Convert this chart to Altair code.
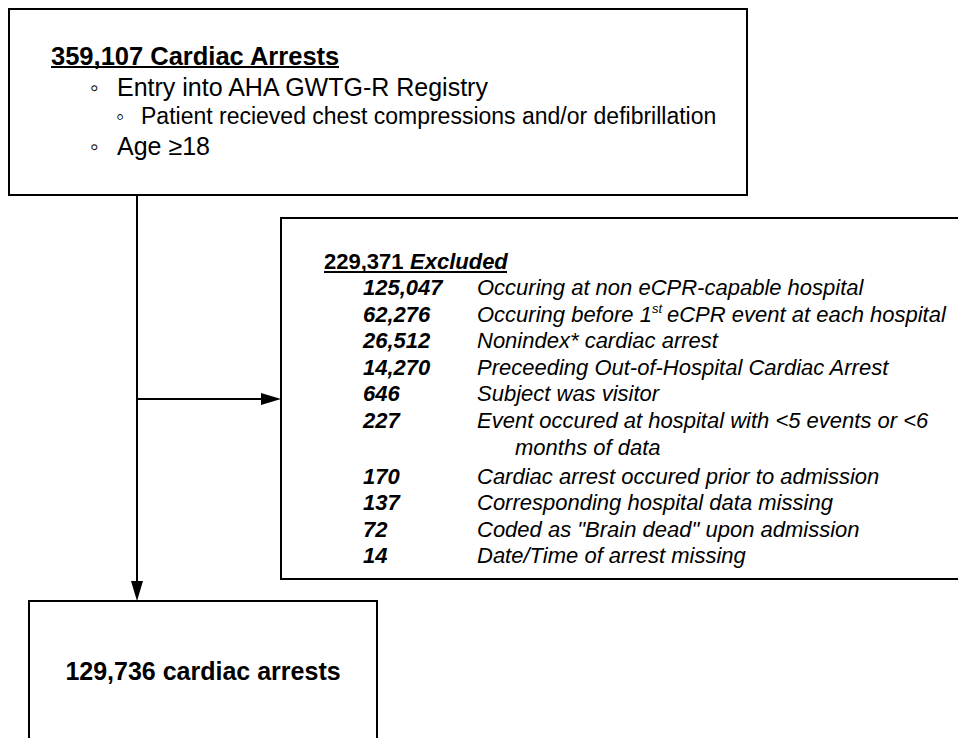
import altair as alt
import pandas as pd

# ---------------- data (text content) ----------------
top_title = "359,107 Cardiac Arrests"
top_bullets = [
    "Entry into AHA GWTG-R Registry",
    "Patient recieved chest compressions and/or defibrillation",
    "Age ≥18",
]
bullet_levels = [1, 2, 1]
excluded_count = "229,371"
excluded_word = "Excluded"
counts = ["125,047", "62,276", "26,512", "14,270", "646", "227", "170", "137", "72", "14"]
reasons = [
    "Occuring at non eCPR-capable hospital",
    "Occuring before 1",
    "Nonindex* cardiac arrest",
    "Preceeding Out-of-Hospital Cardiac Arrest",
    "Subject was visitor",
    "Event occured at hospital with <5 events or <6",
    "Cardiac arrest occured prior to admission",
    "Corresponding hospital data missing",
    "Coded as \"Brain dead\" upon admission",
    "Date/Time of arrest missing",
]
reason_sup = "st"
reason_tail = "eCPR event at each hospital"
reason_cont = "months of data"
final_text = "129,736 cardiac arrests"

# ---------------- layout (pixel-like coordinates) ----------------
FONT = "Liberation Sans"
row_y = [288, 315, 341, 368, 394, 421, 477, 503, 530, 556]
cont_y = 448
top_y = [88, 117, 147]
bullet_x = {1: 90, 2: 116}
text_x = {1: 117, 2: 141}
top_size = {1: 25, 2: 23}

X = alt.Scale(domain=[8, 958], nice=False, zero=False)
Y = alt.Scale(domain=[8, 738], nice=False, zero=False, reverse=True)


def xq(f="x"):
    return alt.X(f"{f}:Q", scale=X, axis=None)


def yq(f="y"):
    return alt.Y(f"{f}:Q", scale=Y, axis=None)


boxes = pd.DataFrame([
    dict(x=9, x2=747, y=9, y2=195),
    dict(x=281, x2=1010, y=218, y2=579),
    dict(x=29, x2=377, y=601, y2=800),
])
box_layer = alt.Chart(boxes).mark_rect(
    fill="white", stroke="black", strokeWidth=2, clip=True
).encode(x=xq(), x2="x2:Q", y=yq(), y2="y2:Q")

lines = pd.DataFrame([
    dict(x=137, x2=137, y=195, y2=585),
    dict(x=137, x2=266, y=399, y2=399),
    dict(x=51, x2=339, y=67, y2=67),
    dict(x=324, x2=507, y=272, y2=272),
])
line_layer = alt.Chart(lines).mark_rule(color="black", strokeWidth=2).encode(
    x=xq(), x2="x2:Q", y=yq(), y2="y2:Q"
)

arrow_down = alt.Chart(pd.DataFrame([dict(x=137, y=601)])).mark_point(
    shape="M0,0 L-0.6,-2 L0.6,-2 Z", size=400, filled=True, color="black",
    opacity=1, strokeWidth=0
).encode(x=xq(), y=yq())
arrow_right = alt.Chart(pd.DataFrame([dict(x=281, y=399)])).mark_point(
    shape="M0,0 L-2,-0.6 L-2,0.6 Z", size=400, filled=True, color="black",
    opacity=1, strokeWidth=0
).encode(x=xq(), y=yq())


def text_layer(rows, size, weight="normal", style="normal", align="left"):
    return alt.Chart(pd.DataFrame(rows)).mark_text(
        align=align, baseline="middle", font=FONT, fontSize=size,
        fontWeight=weight, fontStyle=style, color="black"
    ).encode(x=xq(), y=yq(), text="t:N")


layers = [box_layer, line_layer, arrow_down, arrow_right]

# top box
layers.append(text_layer([dict(x=51, y=57, t=top_title)], 25.5, weight="bold"))
for lvl in (1, 2):
    rows_b = [dict(x=bullet_x[l], y=yy, t="◦") for l, yy in zip(bullet_levels, top_y) if l == lvl]
    rows_t = [dict(x=text_x[l], y=yy, t=s) for l, yy, s in zip(bullet_levels, top_y, top_bullets) if l == lvl]
    layers.append(text_layer(rows_b, top_size[lvl]))
    layers.append(text_layer(rows_t, top_size[lvl]))

# excluded box
layers.append(text_layer([dict(x=324, y=262, t=excluded_count)], 22, weight="bold"))
layers.append(text_layer([dict(x=410, y=262, t=excluded_word)], 22, weight="bold", style="italic"))
layers.append(text_layer([dict(x=363, y=yy, t=c) for c, yy in zip(counts, row_y)], 22,
                         weight="bold", style="italic"))
layers.append(text_layer([dict(x=477, y=yy, t=r) for r, yy in zip(reasons, row_y)]
                         + [dict(x=515, y=cont_y, t=reason_cont),
                            dict(x=667, y=row_y[1], t=reason_tail)], 22, style="italic"))
layers.append(text_layer([dict(x=652, y=row_y[1] - 6, t=reason_sup)], 13, style="italic"))

# final box
layers.append(text_layer([dict(x=203, y=672, t=final_text)], 25, weight="bold", align="center"))

chart = alt.layer(*layers).properties(
    width=950, height=730, padding=0, autosize=alt.AutoSizeParams(type="none")
).configure(
    background="white", view=alt.ViewConfig(stroke=None)
)

chart.save("out.html", embed_options={"renderer": "svg", "actions": False})
